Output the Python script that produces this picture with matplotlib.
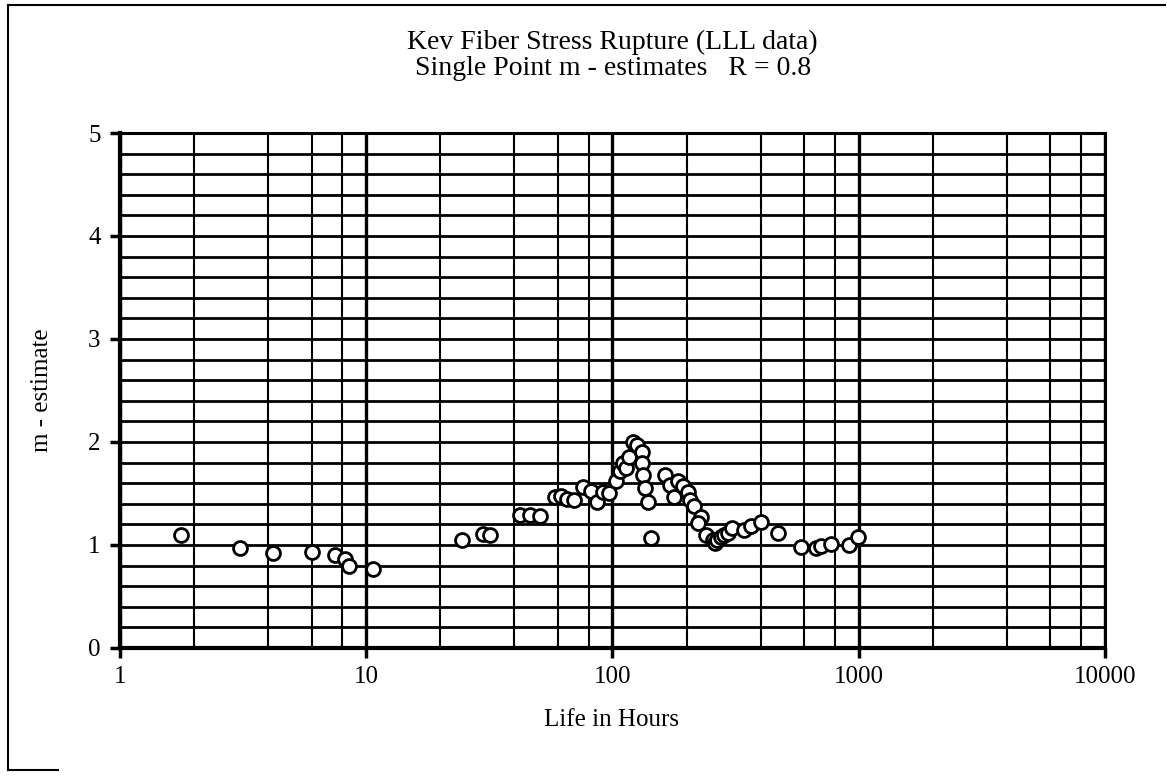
import numpy as np
import matplotlib
matplotlib.use("Agg")
import matplotlib.pyplot as plt
from matplotlib.ticker import LogLocator, NullFormatter
from matplotlib.lines import Line2D

plt.rcParams['font.family'] = ['Liberation Serif', 'DejaVu Serif']

# ---- data ----
life_hours = [1.77, 3.07, 4.19, 6.03, 7.45, 8.2, 8.5, 10.7,
              24.6, 29.9, 31.9, 42.3, 46.4, 51.0,
              58.6, 62.0, 65.6, 70.0, 76.2, 82.0, 86.9, 91.9, 97.0,
              103.0, 107.0, 110.0, 113.0, 117.0, 121.7, 126.0, 132.0, 132.0,
              133.0, 136.0, 140.0, 143.6,
              164.0, 172.0, 184.0, 178.0, 193.0, 202.0, 207.0, 215.0, 228.0, 222.0,
              240.0, 255.0, 262.0, 267.0, 275.0, 283.0, 295.0, 307.0, 341.0, 365.0,
              400.0, 469.0, 581.0, 669.0, 700.0, 769.0, 911.0, 991.0]
m_estimate = [1.10, 0.97, 0.92, 0.93, 0.90, 0.86, 0.80, 0.77,
              1.05, 1.11, 1.10, 1.29, 1.29, 1.28,
              1.47, 1.48, 1.45, 1.44, 1.56, 1.52, 1.42, 1.51, 1.50,
              1.62, 1.72, 1.80, 1.75, 1.85, 2.00, 1.97, 1.90, 1.80,
              1.68, 1.55, 1.42, 1.07,
              1.68, 1.58, 1.62, 1.47, 1.57, 1.51, 1.44, 1.38, 1.27, 1.21,
              1.10, 1.05, 1.02, 1.05, 1.08, 1.10, 1.12, 1.16, 1.15, 1.18,
              1.22, 1.12, 0.98, 0.97, 0.99, 1.01, 1.00, 1.08]

x_ticks = [1, 10, 100, 1000, 10000]
x_tick_labels = ['1', '10', '100', '1000', '10000']
y_ticks = [0, 1, 2, 3, 4, 5]

title_line1 = 'Kev Fiber Stress Rupture (LLL data)'
title_line2 = 'Single Point m - estimates   R = 0.8'
x_label = 'Life in Hours'
y_label = 'm - estimate'

# ---- figure ----
fig = plt.figure(figsize=(11.67, 7.76), dpi=100)
ax = fig.add_axes([0.1028, 0.165, 0.844, 0.6636])

ax.set_xscale('log')
ax.set_xlim(1, 10000)
ax.set_ylim(0, 5)

ax.set_xticks(x_ticks)
ax.set_xticklabels(x_tick_labels)
ax.xaxis.set_minor_locator(LogLocator(base=10, subs=[2, 4, 6, 8], numticks=20))
ax.xaxis.set_minor_formatter(NullFormatter())
ax.set_yticks(y_ticks)
ax.set_yticks(np.arange(0, 5.01, 0.2), minor=True)

ax.grid(which='both', axis='y', color='black', lw=2.0)
ax.grid(which='major', axis='x', color='black', lw=2.4)
ax.grid(which='minor', axis='x', color='black', lw=1.5)
ax.set_axisbelow(True)

ax.tick_params(which='major', direction='out', length=7, width=2.5,
               labelsize=18, color='black')
ax.tick_params(axis='x', which='major', pad=6)
ax.tick_params(axis='y', which='major', pad=7)
ax.tick_params(which='minor', length=0)
for side in ['left', 'bottom']:
    ax.spines[side].set_linewidth(3.0)
for side in ['top', 'right']:
    ax.spines[side].set_linewidth(2.2)

ax.plot(life_hours, m_estimate, 'o', mfc='white', mec='black',
        ms=10, mew=2.0, zorder=3)

fig.text(0.525, 0.945, title_line1, ha='center', va='center', fontsize=20)
fig.text(0.525, 0.912, title_line2, ha='center', va='center', fontsize=20)
fig.text(0.524, 0.072, x_label, ha='center', va='center', fontsize=18)
fig.text(0.036, 0.497, y_label, ha='center', va='center', fontsize=18,
         rotation=90)

# outer frame (partial, like the scanned page)
fig.add_artist(Line2D([0.007, 0.007], [0.008, 0.994], transform=fig.transFigure,
                      color='black', lw=1.5))
fig.add_artist(Line2D([0.007, 0.998], [0.994, 0.994], transform=fig.transFigure,
                      color='black', lw=1.5))
fig.add_artist(Line2D([0.007, 0.05], [0.008, 0.008], transform=fig.transFigure,
                      color='black', lw=1.5))

fig.savefig('out.png', dpi=100)
